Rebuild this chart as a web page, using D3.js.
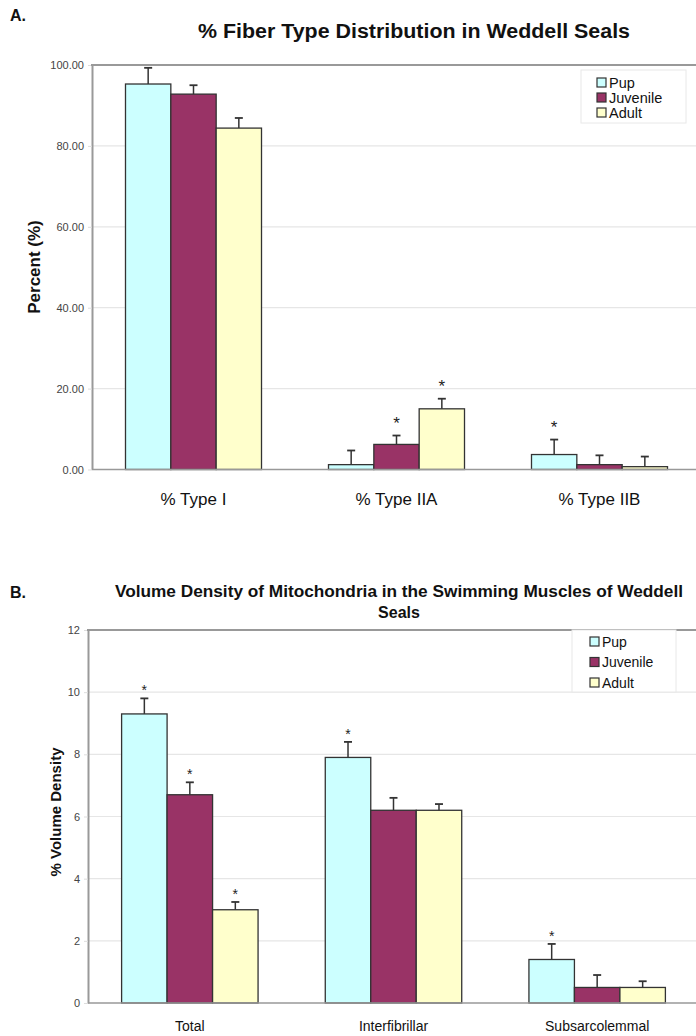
<!DOCTYPE html>
<html>
<head>
<meta charset="UTF-8">
<title>Weddell Seal Muscle</title>
<script src="https://cdn.jsdelivr.net/npm/d3@7"></script>
<style>
  body { margin: 0; background: #fff; }
  svg { display: block; font-family: "Liberation Sans", Arial, sans-serif; }
</style>
</head>
<body>
<div id="chart"></div>
<script>
// ---- data ----
const series = ["Pup", "Juvenile", "Adult"];
const seriesColors = ["#ccffff", "#993366", "#ffffcc"];

const fiberTypes = ["% Type I", "% Type IIA", "% Type IIB"];
const fiberPup = [95.3, 1.2, 3.7];
const fiberJuvenile = [92.8, 6.2, 1.2];
const fiberAdult = [84.4, 15.0, 0.7];
const fiberPupErr = [4.0, 3.5, 3.7];
const fiberJuvenileErr = [2.2, 2.2, 2.3];
const fiberAdultErr = [2.5, 2.5, 2.5];
const fiberPupStar = [false, false, true];
const fiberJuvenileStar = [false, true, false];
const fiberAdultStar = [false, true, false];
const fiberTicks = [0, 20, 40, 60, 80, 100];

const mitoTypes = ["Total", "Interfibrillar", "Subsarcolemmal"];
const mitoPup = [9.3, 7.9, 1.4];
const mitoJuvenile = [6.7, 6.2, 0.5];
const mitoAdult = [3.0, 6.2, 0.5];
const mitoPupErr = [0.5, 0.5, 0.5];
const mitoJuvenileErr = [0.4, 0.4, 0.4];
const mitoAdultErr = [0.25, 0.2, 0.2];
const mitoPupStar = [true, true, true];
const mitoJuvenileStar = [true, false, false];
const mitoAdultStar = [true, false, false];
const mitoTicks = [0, 2, 4, 6, 8, 10, 12];

const w = 696, h = 1036;
const svg = d3.select("#chart").append("svg").attr("width", w).attr("height", h);

function drawPanel(o) {
  const g = svg.append("g");
  const rows = o.cats.map((c, i) => ({
    cat: c,
    vals: series.map((s, k) => ({
      s, k, v: o.values[k][i], e: o.errs[k][i], star: o.stars[k][i]
    }))
  }));

  const x = d3.scaleBand().domain(o.cats).range([o.left, o.right])
              .paddingInner(0.33).paddingOuter(0.165);
  const xs = d3.scaleBand().domain(series).range([0, x.bandwidth()]);
  const y = d3.scaleLinear().domain(o.domain).range([o.bottom, o.top]);

  // grid lines
  g.selectAll(".grid").data(o.ticks.filter(t => t > o.domain[0] && t < o.domain[1]))
   .enter().append("line")
   .attr("x1", o.left).attr("x2", o.right)
   .attr("y1", d => y(d)).attr("y2", d => y(d))
   .attr("stroke", "#e6e6e6").attr("stroke-width", 1.2);

  // y axis
  const ya = g.append("g").attr("transform", `translate(${o.left},0)`)
    .call(d3.axisLeft(y).tickValues(o.ticks).tickFormat(o.fmt).tickSize(4).tickSizeOuter(0).tickPadding(4));
  ya.select(".domain").attr("stroke", "#999").attr("stroke-width", 2);
  ya.selectAll(".tick line").attr("stroke", "#ddd");
  ya.selectAll(".tick text").attr("fill", "#444").style("font-size", o.tickFont + "px");

  // top border
  g.append("line").attr("x1", o.left - 1).attr("x2", o.right)
   .attr("y1", o.top).attr("y2", o.top).attr("stroke", "#999").attr("stroke-width", 2);

  // bars
  const grp = g.selectAll(".grp").data(rows).enter().append("g")
    .attr("transform", d => `translate(${x(d.cat)},0)`);
  grp.selectAll("rect").data(d => d.vals).enter().append("rect")
    .attr("x", d => xs(d.s)).attr("width", xs.bandwidth())
    .attr("y", d => y(d.v)).attr("height", d => y(0) - y(d.v))
    .attr("fill", d => seriesColors[d.k])
    .attr("stroke", "#333").attr("stroke-width", 1.3);

  // baseline
  g.append("line").attr("x1", o.left).attr("x2", o.right)
   .attr("y1", y(0)).attr("y2", y(0)).attr("stroke", "#999").attr("stroke-width", 1.5);

  // error bars (upper only)
  const eb = grp.selectAll(".eb").data(d => d.vals).enter().append("g");
  eb.append("line")
    .attr("x1", d => xs(d.s) + xs.bandwidth() / 2).attr("x2", d => xs(d.s) + xs.bandwidth() / 2)
    .attr("y1", d => y(d.v)).attr("y2", d => y(d.v + d.e))
    .attr("stroke", "#333").attr("stroke-width", 1.5);
  eb.append("line")
    .attr("x1", d => xs(d.s) + xs.bandwidth() / 2 - 4).attr("x2", d => xs(d.s) + xs.bandwidth() / 2 + 4)
    .attr("y1", d => y(d.v + d.e)).attr("y2", d => y(d.v + d.e))
    .attr("stroke", "#333").attr("stroke-width", 1.8);

  // significance stars
  grp.selectAll(".star").data(d => d.vals.filter(v => v.star)).enter().append("text")
    .attr("x", d => xs(d.s) + xs.bandwidth() / 2)
    .attr("y", d => y(d.v + d.e) - o.starGap)
    .attr("text-anchor", "middle").style("font-size", o.starFont + "px").attr("fill", "#222")
    .text("*");

  // category labels
  g.selectAll(".cat").data(o.cats).enter().append("text")
    .attr("x", d => x(d) + x.bandwidth() / 2).attr("y", o.catY)
    .attr("text-anchor", "middle").style("font-size", o.catFont + "px").attr("fill", "#111")
    .text(d => d);

  // y label
  g.append("text")
    .attr("transform", `translate(${o.yLabelX},${o.yLabelY}) rotate(-90)`)
    .attr("text-anchor", "middle").style("font-size", o.yLabelFont + "px")
    .style("font-weight", "bold").attr("fill", "#111")
    .text(o.yLabel);

  // panel letter
  g.append("text").attr("x", 10).attr("y", o.letterY)
    .style("font-size", "16px").style("font-weight", "bold").attr("fill", "#111").text(o.letter);

  // title
  o.title.forEach((t, i) => {
    const tt = g.append("text").attr("x", o.titleX).attr("y", o.titleY + i * o.titleLead)
      .attr("text-anchor", "middle").style("font-size", o.titleFont + "px")
      .style("font-weight", "bold").attr("fill", "#111").text(t);
    if (o.titleWidths[i]) tt.attr("textLength", o.titleWidths[i]).attr("lengthAdjust", "spacingAndGlyphs");
  });

  // legend
  const lg = g.append("g");
  lg.append("rect").attr("x", o.legX).attr("y", o.legY).attr("width", o.legW).attr("height", o.legH)
    .attr("fill", "#fff").attr("stroke", "#e8e8e8");
  lg.selectAll(".sw").data(series).enter().append("rect")
    .attr("x", o.legX + o.legPad).attr("y", (d, i) => o.legFirst + i * o.legStep - 5)
    .attr("width", 9).attr("height", 9)
    .attr("fill", (d, i) => seriesColors[i]).attr("stroke", "#333").attr("stroke-width", 1.2);
  lg.selectAll(".lt").data(series).enter().append("text")
    .attr("x", o.legX + o.legPad + 12).attr("y", (d, i) => o.legFirst + i * o.legStep)
    .attr("dy", "0.35em").style("font-size", o.legFont + "px").attr("fill", "#111")
    .text(d => d);
}

drawPanel({
  cats: fiberTypes,
  values: [fiberPup, fiberJuvenile, fiberAdult],
  errs: [fiberPupErr, fiberJuvenileErr, fiberAdultErr],
  stars: [fiberPupStar, fiberJuvenileStar, fiberAdultStar],
  ticks: fiberTicks, domain: [0, 100], fmt: d3.format(".2f"), tickFont: 11,
  left: 92, right: 701, top: 65, bottom: 469.5,
  starGap: 7, starFont: 17,
  catY: 505, catFont: 17,
  yLabel: "Percent (%)", yLabelX: 40, yLabelY: 267, yLabelFont: 17,
  letter: "A.", letterY: 21,
  title: ["% Fiber Type Distribution in Weddell Seals"], titleWidths: [432],
  titleX: 414, titleY: 38, titleLead: 0, titleFont: 20,
  legX: 581, legY: 70, legW: 105, legH: 53, legPad: 16, legFirst: 83, legStep: 15, legFont: 14.5
});

drawPanel({
  cats: mitoTypes,
  values: [mitoPup, mitoJuvenile, mitoAdult],
  errs: [mitoPupErr, mitoJuvenileErr, mitoAdultErr],
  stars: [mitoPupStar, mitoJuvenileStar, mitoAdultStar],
  ticks: mitoTicks, domain: [0, 12], fmt: d3.format("d"), tickFont: 11,
  left: 88, right: 699, top: 630, bottom: 1003,
  starGap: 3, starFont: 14,
  catY: 1031, catFont: 14,
  yLabel: "% Volume Density", yLabelX: 61, yLabelY: 812, yLabelFont: 15,
  letter: "B.", letterY: 598,
  title: ["Volume Density of Mitochondria in the Swimming Muscles of Weddell", "Seals"],
  titleWidths: [568, 0],
  titleX: 399, titleY: 597, titleLead: 21, titleFont: 16,
  legX: 572, legY: 630, legW: 104, legH: 62, legPad: 18, legFirst: 642, legStep: 20.5, legFont: 14
});
</script>
</body>
</html>
